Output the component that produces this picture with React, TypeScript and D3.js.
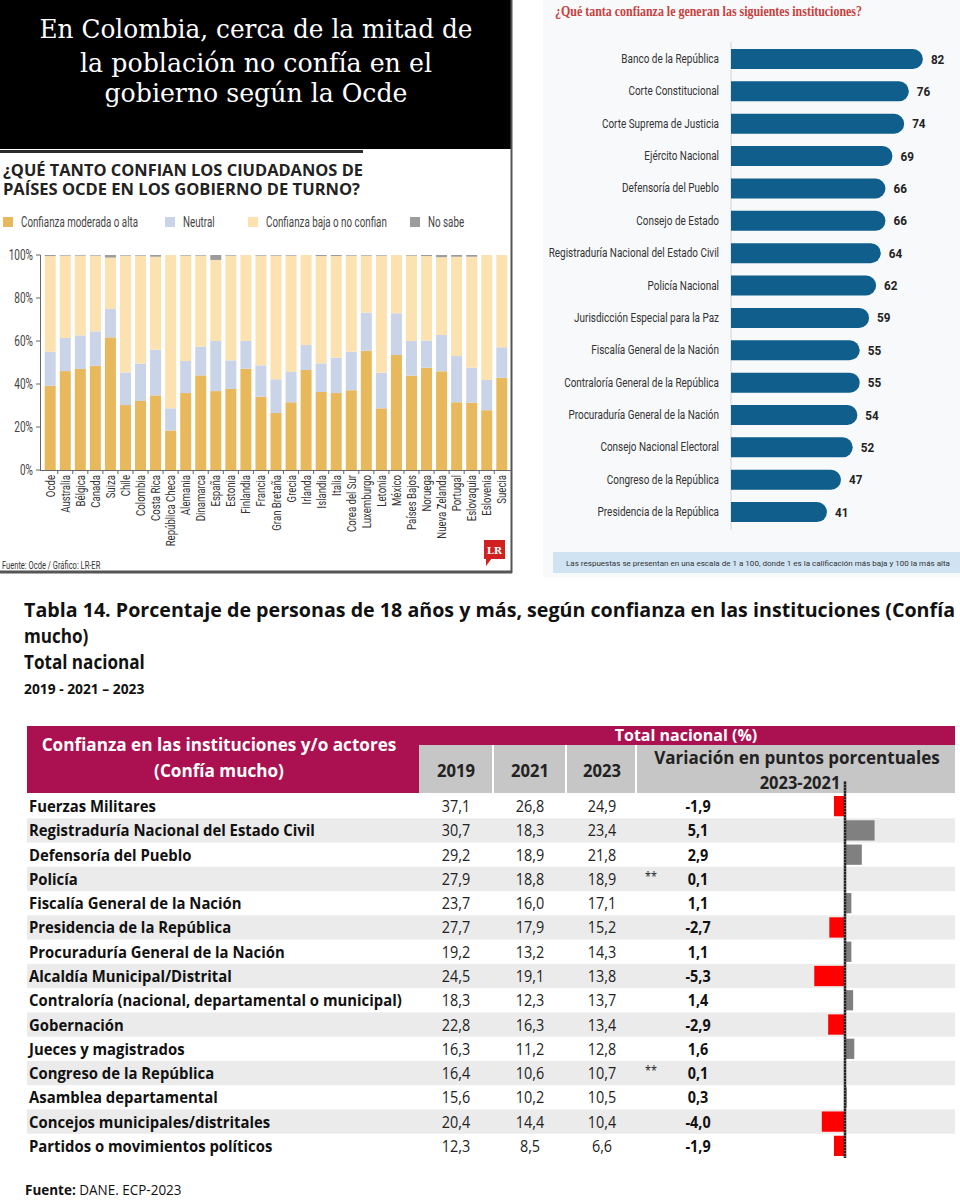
import * as d3 from "d3";

// ---- OCDE stacked bars ----
const paises = ["Ocde", "Australia", "Bélgica", "Canada", "Suiza", "Chile", "Colombia", "Costa Rica", "República Checa", "Alemania", "Dinamarca", "España", "Estonia", "Finlandia", "Francia", "Gran Bretaña", "Grecia", "Irlanda", "Islandia", "Italia", "Corea del Sur", "Luxemburgo", "Letonia", "México", "Países Bajos", "Noruega", "Nueva Zelanda", "Portugal", "Eslovaquia", "Eslovenia", "Suecia"];
const moderada = [39.2, 46.0, 47.0, 48.5, 61.7, 30.2, 32.1, 34.7, 18.4, 35.8, 44.0, 36.7, 37.7, 47.1, 34.1, 26.5, 31.5, 46.5, 36.3, 35.8, 37.1, 55.5, 28.7, 53.5, 43.9, 47.6, 45.9, 31.5, 31.3, 27.8, 42.9];
const neutral = [15.8, 15.4, 15.6, 16.0, 13.2, 15.2, 17.4, 21.3, 10.3, 14.9, 13.4, 23.3, 13.3, 12.9, 14.6, 15.7, 14.1, 11.6, 13.3, 16.4, 17.9, 17.7, 16.6, 19.4, 16.1, 12.6, 16.9, 21.5, 16.3, 14.1, 14.2];
const baja = [44.5, 38.3, 37.1, 35.2, 23.9, 54.3, 50.2, 43.2, 71.3, 49.0, 42.3, 37.7, 48.7, 40.0, 51.0, 57.5, 54.1, 41.9, 49.9, 47.3, 44.7, 26.5, 54.4, 27.1, 39.7, 39.3, 36.2, 46.2, 51.6, 58.1, 42.9];
const noSabe = [0.5, 0.3, 0.3, 0.3, 1.2, 0.3, 0.3, 0.8, 0, 0.3, 0.3, 2.3, 0.3, 0, 0.3, 0.3, 0.3, 0, 0.5, 0.5, 0.3, 0.3, 0.3, 0, 0.3, 0.5, 1.0, 0.8, 0.8, 0, 0];
const yTicks = [0, 20, 40, 60, 80, 100];
const serieKeys = ["moderada", "neutral", "baja", "noSabe"];
const serieNames = ["Confianza moderada o alta", "Neutral", "Confianza baja o no confian", "No sabe"];
const serieColors = ["#e8b95c", "#c9d4e8", "#fde2b1", "#9c9c9c"];

// ---- Instituciones (escala 1-100) ----
const instituciones = ["Banco de la República", "Corte Constitucional", "Corte Suprema de Justicia", "Ejército Nacional", "Defensoría del Pueblo", "Consejo de Estado", "Registraduría Nacional del Estado Civil", "Policía Nacional", "Jurisdicción Especial para la Paz", "Fiscalía General de la Nación", "Contraloría General de la República", "Procuraduría General de la Nación", "Consejo Nacional Electoral", "Congreso de la República", "Presidencia de la República"];
const confianza = [82, 76, 74, 69, 66, 66, 64, 62, 59, 55, 55, 54, 52, 47, 41];

// ---- Tabla 14 ----
const actores = ["Fuerzas Militares", "Registraduría Nacional del Estado Civil", "Defensoría del Pueblo", "Policía", "Fiscalía General de la Nación", "Presidencia de la República", "Procuraduría General de la Nación", "Alcaldía Municipal/Distrital", "Contraloría (nacional, departamental o municipal)", "Gobernación", "Jueces y magistrados", "Congreso de la República", "Asamblea departamental", "Concejos municipales/distritales", "Partidos o movimientos políticos"];
const v2019 = [37.1, 30.7, 29.2, 27.9, 23.7, 27.7, 19.2, 24.5, 18.3, 22.8, 16.3, 16.4, 15.6, 20.4, 12.3];
const v2021 = [26.8, 18.3, 18.9, 18.8, 16.0, 17.9, 13.2, 19.1, 12.3, 16.3, 11.2, 10.6, 10.2, 14.4, 8.5];
const v2023 = [24.9, 23.4, 21.8, 18.9, 17.1, 15.2, 14.3, 13.8, 13.7, 13.4, 12.8, 10.7, 10.5, 10.4, 6.6];
const variacion = [-1.9, 5.1, 2.9, 0.1, 1.1, -2.7, 1.1, -5.3, 1.4, -2.9, 1.6, 0.1, 0.3, -4.0, -1.9];
const noSignif = [false, false, false, true, false, false, false, false, false, false, false, true, false, false, false];
const anios = ["2019", "2021", "2023"];

const COND = "Roboto, 'Noto Sans', sans-serif";
const TAB = "'Open Sans', 'Noto Sans', sans-serif";
const SLAB = "'DejaVu Serif', 'Noto Serif', serif";

const fmt = (v: number) => d3.format(".1f")(v).replace(".", ",").replace("\u2212", "-");

type TP = {
  x: number; y: number; sx?: number; anchor?: string; size: number; weight?: number | string;
  fill?: string; family?: string; rotate?: number; children: any;
};
// text with a horizontal squeeze (the source images are narrower than wide fonts)
function T({ x, y, sx = 1, anchor = "start", size, weight = 400, fill = "#222", family = TAB, rotate, children }: TP) {
  const tr = `translate(${x},${y})${rotate ? ` rotate(${rotate})` : ""} scale(${sx},1)`;
  return (
    <text transform={tr} textAnchor={anchor as any} fontSize={size} fontWeight={weight} fill={fill} fontFamily={family}>
      {children}
    </text>
  );
}

function OcdeChart() {
  const x = d3.scaleBand<string>().domain(paises).range([40.5, 511.5]).paddingInner(0.27).paddingOuter(0.28);
  const y = d3.scaleLinear().domain([0, 100]).range([470, 255]);
  const rows = paises.map((p, i) => ({ pais: p, moderada: moderada[i], neutral: neutral[i], baja: baja[i], noSabe: noSabe[i] }));
  const series = d3.stack<any>().keys(serieKeys)(rows);
  const legendX = [3, 165, 248, 410];

  return (
    <g>
      <rect x={0} y={0} width={512} height={149} fill="#000" />
      {["En Colombia, cerca de la mitad de", "la población no confía en el", "gobierno según la Ocde"].map((l, i) => (
        <text key={l} x={256} y={[38, 72, 102][i]} textAnchor="middle" fill="#fff" fontSize={26}
          fontFamily={SLAB} textLength={[433, 352, 303][i]} lengthAdjust="spacingAndGlyphs">{l}</text>
      ))}
      <rect x={0} y={149} width={512} height={424} fill="#fff" />
      <rect x={0} y={150} width={363} height={3} fill="#2b2b2b" />
      <line x1={511.5} x2={511.5} y1={0} y2={573} stroke="#555" strokeWidth={2} />
      <line x1={0} x2={512} y1={572} y2={572} stroke="#555" strokeWidth={3} />
      <text x={3} y={176} fontSize={16.5} fontWeight={700} fill="#222" fontFamily={TAB} textLength={360} lengthAdjust="spacingAndGlyphs">¿QUÉ TANTO CONFIAN LOS CIUDADANOS DE</text>
      <text x={3} y={195} fontSize={16.5} fontWeight={700} fill="#222" fontFamily={TAB} textLength={357} lengthAdjust="spacingAndGlyphs">PAÍSES OCDE EN LOS GOBIERNO DE TURNO?</text>

      {serieNames.map((n, i) => (
        <g key={n}>
          <rect x={legendX[i]} y={217} width={10} height={10} fill={serieColors[i]} />
          <T x={legendX[i] + 18} y={227} size={14} sx={0.7} fill="#444" family={COND}>{n}</T>
        </g>
      ))}

      {series.map((s, si) => (
        <g key={s.key} fill={serieColors[si]}>
          {s.map((d: any) => (
            <rect key={d.data.pais} x={x(d.data.pais)} y={y(d[1])} width={x.bandwidth()} height={Math.max(0, y(d[0]) - y(d[1]))} />
          ))}
        </g>
      ))}

      <line x1={40.5} x2={40.5} y1={255} y2={470} stroke="#666" />
      <line x1={40} x2={512} y1={470.5} y2={470.5} stroke="#666" />
      {yTicks.map((t) => (
        <g key={t}>
          <line x1={36} x2={40.5} y1={y(t)} y2={y(t)} stroke="#666" />
          <T x={33} y={y(t) + 5} anchor="end" size={14} sx={0.72} fill="#444" family={COND}>{`${t}%`}</T>
        </g>
      ))}
      {paises.map((p, i) => (
        <g key={p}>
          {i > 0 && <line x1={x(p)! - (x.step() - x.bandwidth()) / 2} x2={x(p)! - (x.step() - x.bandwidth()) / 2} y1={470} y2={474} stroke="#666" />}
          <T x={x(p)! + x.bandwidth() / 2 + 4.5} y={475} rotate={-90} anchor="end" size={13} sx={0.74} fill="#333" family={COND}>{p}</T>
        </g>
      ))}

      <T x={2} y={569} size={10.5} sx={0.72} fill="#333" family={COND}>Fuente: Ocde / Gráfico: LR-ER</T>
      <rect x={484} y={540} width={21} height={19} fill="#d0201f" />
      <path d="M486,558 L486,566 L492,558 Z" fill="#d0201f" />
      <text x={494.5} y={554} textAnchor="middle" fontSize={10} fontWeight={700} fill="#fff" fontFamily={SLAB}>LR</text>
    </g>
  );
}

function InstitucionesChart() {
  const y = d3.scaleBand<string>().domain(instituciones).range([39.3, 531.8]).paddingInner(0.382).paddingOuter(0.3);
  const x = d3.scaleLinear().domain([0, 100]).range([731, 965]);
  const h = y.bandwidth();
  const r = h / 2;

  return (
    <g>
      <rect x={543} y={0} width={417} height={577} fill="#f8f9fb" />
      <text x={555} y={16} fontSize={14} fontWeight={700} fill="#c8403c" fontFamily="'Liberation Serif', serif"
        textLength={307} lengthAdjust="spacingAndGlyphs">¿Qué tanta confianza le generan las siguientes instituciones?</text>
      <line x1={731} x2={731} y1={42} y2={530} stroke="#cfd3d8" />
      {instituciones.map((n, i) => {
        const y0 = y(n)!;
        const x0 = x(0);
        const x1 = x(confianza[i]);
        const d = `M${x0},${y0} H${x1 - r} A${r},${r} 0 0 1 ${x1 - r},${y0 + h} H${x0} Z`;
        return (
          <g key={n}>
            <path d={d} fill="#0f5e8c" />
            <T x={719} y={y0 + h / 2 + 4} anchor="end" size={12} sx={0.83} fill="#333" family={COND}>{n}</T>
            <T x={x1 + 8} y={y0 + h / 2 + 4.5} size={13} weight={700} sx={0.9} fill="#222" family={COND}>{confianza[i]}</T>
          </g>
        );
      })}
      <rect x={553} y={552} width={407} height={21} fill="#cfe3f3" />
      <text x={566} y={566} fontSize={8} fill="#333" fontFamily={COND} textLength={384} lengthAdjust="spacingAndGlyphs">
        Las respuestas se presentan en una escala de 1 a 100, donde 1 es la calificación más baja y 100 la más alta
      </text>
    </g>
  );
}

function Tabla() {
  const y = d3.scaleBand<string>().domain(actores).range([794, 1158]);
  const xd = d3.scaleLinear().domain([-6, 6]).range([845 - 34.8, 845 + 34.8]);
  const colX = [456, 530, 602];
  const sx = 0.9;
  const maroon = "#ab1150";
  const grayH = "#c6c6c6";

  return (
    <g>
      <text x={24} y={617} fontSize={19} fontWeight={700} fill="#111" fontFamily={TAB} textLength={931} lengthAdjust="spacingAndGlyphs">
        Tabla 14. Porcentaje de personas de 18 años y más, según confianza en las instituciones (Confía
      </text>
      <T x={24} y={643} size={19} weight={700} sx={0.9} fill="#111">mucho)</T>
      <T x={24} y={669} size={19} weight={700} sx={0.9} fill="#111">Total nacional</T>
      <T x={24} y={694} size={15} weight={700} sx={0.92} fill="#111">2019 - 2021 – 2023</T>

      <rect x={27} y={726} width={392} height={67} fill={maroon} />
      <rect x={419} y={726} width={536} height={19} fill={maroon} />
      <rect x={419} y={745} width={536} height={48} fill={grayH} />
      {[493, 566, 636].map((v) => (
        <line key={v} x1={v} x2={v} y1={745} y2={793} stroke="#fff" strokeWidth={2} />
      ))}
      <T x={219} y={751} anchor="middle" size={17.5} weight={700} sx={0.98} fill="#fff">Confianza en las instituciones y/o actores</T>
      <T x={219} y={777} anchor="middle" size={17.5} weight={700} sx={0.98} fill="#fff">(Confía mucho)</T>
      <T x={686} y={741} anchor="middle" size={16.5} weight={700} sx={0.97} fill="#fff">Total nacional (%)</T>
      {anios.map((a, i) => (
        <T key={a} x={colX[i]} y={777} anchor="middle" size={17.5} weight={700} sx={0.95} fill="#222">{a}</T>
      ))}
      <T x={797} y={764} anchor="middle" size={17} weight={700} sx={1} fill="#222">Variación en puntos porcentuales</T>
      <T x={800} y={789} anchor="middle" size={17} weight={700} sx={0.97} fill="#222">2023-2021</T>

      {actores.map((a, i) => {
        const y0 = y(a)!;
        const cy = y0 + y.bandwidth() / 2;
        const v = variacion[i];
        return (
          <g key={a}>
            {i % 2 === 1 && <rect x={27} y={y0} width={928} height={y.bandwidth()} fill="#ebebeb" />}
            <T x={29} y={cy + 6} size={16} weight={700} sx={0.93} fill="#111">{a}</T>
            {[v2019[i], v2021[i], v2023[i]].map((val, j) => (
              <T key={j} x={colX[j]} y={cy + 6} anchor="middle" size={16} sx={sx} fill="#222">{fmt(val)}</T>
            ))}
            {noSignif[i] && <T x={651} y={cy + 2} anchor="middle" size={12} sx={sx} fill="#222">**</T>}
            <T x={698} y={cy + 6} anchor="middle" size={16} weight={700} sx={sx} fill="#111">{fmt(v)}</T>
            <rect x={Math.min(xd(0), xd(v))} y={y0 + 2} width={Math.abs(xd(v) - xd(0))} height={y.bandwidth() - 4}
              fill={v < 0 ? "#ff0000" : "#808080"} />
          </g>
        );
      })}
      <line x1={xd(0)} x2={xd(0)} y1={781} y2={1158} stroke="#222" strokeWidth={2.5} />
      <line x1={xd(0)} x2={xd(0)} y1={781} y2={1158} stroke="#aaa" strokeWidth={1} strokeDasharray="1,2" />

      <text x={25} y={1195} fontSize={15} fill="#111" fontFamily={TAB} transform="translate(2.5,0) scale(0.9,1)">
        <tspan fontWeight={700}>Fuente:</tspan> DANE. ECP-2023
      </text>
    </g>
  );
}

export default function App() {
  return (
    <svg width={960} height={1200} style={{ position: "absolute", left: 0, top: 0, background: "#fff" }}>
      <rect width={960} height={1200} fill="#fff" />
      <OcdeChart />
      <InstitucionesChart />
      <Tabla />
    </svg>
  );
}
